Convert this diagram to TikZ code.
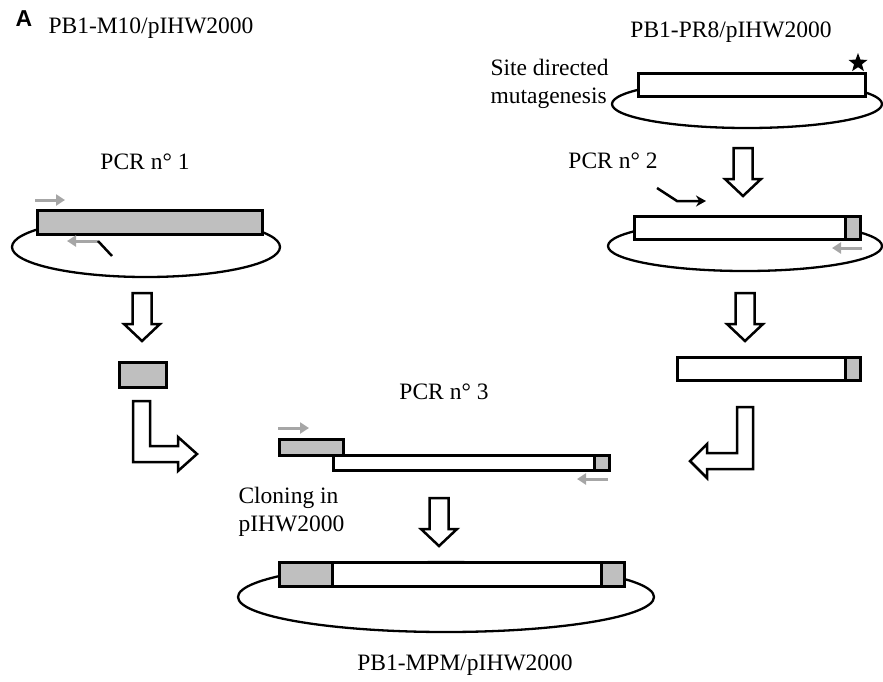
\documentclass[tikz,border=0pt]{standalone}
\usepackage{fontspec}
\setmainfont{Liberation Serif}
\newfontfamily\panelfont{Liberation Sans}
\usetikzlibrary{arrows.meta,shapes.geometric,positioning,calc}
\tikzset{
	dnabar/.style={rectangle, draw=black, line width=2.5pt, fill=white, inner sep=0pt, anchor=north west},
	grayseg/.style={dnabar, fill=black!25},
	plasmid/.style={draw=black, line width=2.3pt},
	primer/.style={draw=black!35, line width=3pt, -{Triangle[length=9pt,width=11pt]}},
	tailline/.style={draw=black, line width=2.5pt},
	blkarrow/.style={draw=black, line width=2.5pt, fill=white, miter limit=4},
	downblk/.pic={\draw[blkarrow] (-9.5,0) -- (9.5,0) -- (9.5,31) -- (18,31) -- (0,48) -- (-18,31) -- (-9.5,31) -- cycle;}
}
\begin{document}
\begin{tikzpicture}[x=1pt, y=-1pt, font=\fontsize{23.5}{28}\selectfont]
	\useasboundingbox (0,0) rectangle (883,681);
	% titles
	\node[font=\panelfont\bfseries\fontsize{23}{26}\selectfont] (panel) at (24,19) {A};
	\node (m10name) at (151,28) {PB1-M10/pIHW2000};
	\node (pr8name) at (731,32) {PB1-PR8/pIHW2000};
	% plasmid loops
	\draw[plasmid] (747,104) ellipse [x radius=135, y radius=24];
	\draw[plasmid] (146,247) ellipse [x radius=134, y radius=30];
	\draw[plasmid] (745,246) ellipse [x radius=137, y radius=25];
	\draw[plasmid] (446,597) ellipse [x radius=208, y radius=35];
	% PB1-PR8 with mutation
	\node[dnabar, minimum width=227, minimum height=23] (pr8) at (637,72) {};
	\node[star, star points=5, star point ratio=2.4, fill=black, inner sep=0pt, minimum size=20] (mut) at (858,63) {};
	\node[anchor=west, align=left] (sdm) at (487,84) {Site directed\\mutagenesis};
	% PCR 1
	\node (pcr1) at (145,162) {PCR n° 1};
	\node[grayseg, minimum width=225, minimum height=24] (m10) at (36,209) {};
	\coordinate (p1a) at (35,200);
	\coordinate (p1b) at (65,200);
	\coordinate (p2a) at (98,241);
	\coordinate (p2b) at (67,241);
	\coordinate (p2t) at (112,256);
	\draw[primer] (p1a) -- (p1b);
	\draw[primer] (p2a) -- (p2b);
	\draw[tailline] (p2a) -- (p2t);
	\pic at (142,293) {downblk};
	\node[grayseg, minimum width=47, minimum height=25] (frag1) at (118,361) {};
	\draw[blkarrow] (133,401) -- (150,401) -- (150,446) -- (178,446) -- (178,437) -- (197,454)
		-- (178,471) -- (178,462) -- (133,462) -- cycle;
	% PCR 2
	\pic at (743,148) {downblk};
	\node (pcr2) at (613,161) {PCR n° 2};
	\node[dnabar, minimum width=226, minimum height=23] (pr8b) at (633,215) {};
	\node[grayseg, minimum width=15, minimum height=23] (pr8bend) at (844,215) {};
	\coordinate (q1t) at (657,188);
	\coordinate (q1k) at (677,201);
	\coordinate (q1b) at (706,201);
	\draw[tailline, -{Stealth[length=10pt,width=11pt]}] (q1t) -- (q1k) -- (q1b);
	\coordinate (q2a) at (862,248);
	\coordinate (q2b) at (832,248);
	\draw[primer] (q2a) -- (q2b);
	\pic at (745,293) {downblk};
	\node[dnabar, minimum width=183, minimum height=23] (frag2) at (676,356) {};
	\node[grayseg, minimum width=15, minimum height=23] (frag2end) at (844,356) {};
	\draw[blkarrow] (753,407) -- (737,407) -- (737,453) -- (707,453) -- (707,444) -- (690,461)
		-- (707,478) -- (707,469) -- (753,469) -- cycle;
	% PCR 3
	\node (pcr3) at (444,392) {PCR n° 3};
	\node[dnabar, minimum width=276, minimum height=15] (fuse) at (332,454) {};
	\node[grayseg, minimum width=15, minimum height=15] (fuseend) at (593,454) {};
	\node[grayseg, minimum width=64, minimum height=16] (fusehead) at (278,438) {};
	\coordinate (r1a) at (278,428);
	\coordinate (r1b) at (309,428);
	\coordinate (r2a) at (608,479);
	\coordinate (r2b) at (577,479);
	\draw[primer] (r1a) -- (r1b);
	\draw[primer] (r2a) -- (r2b);
	% cloning
	\node[anchor=west, align=left] (clone) at (235,512) {Cloning in\\pIHW2000};
	\pic at (439,498) {downblk};
	\node[dnabar, minimum width=345, minimum height=24] (mpm) at (278,561) {};
	\node[grayseg, minimum width=53, minimum height=24] (mpmleft) at (278,561) {};
	\node[grayseg, minimum width=23, minimum height=24] (mpmright) at (600,561) {};
	\node (mpmname) at (465,665) {PB1-MPM/pIHW2000};
\end{tikzpicture}
\end{document}
